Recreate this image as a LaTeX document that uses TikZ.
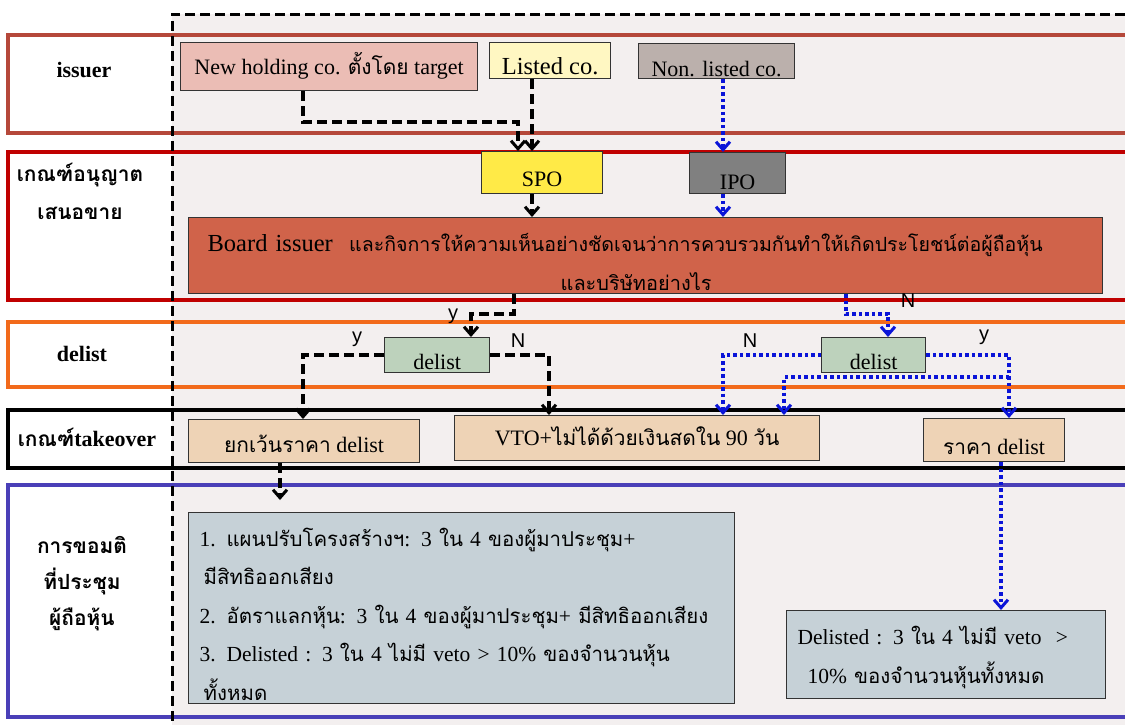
\documentclass[tikz,border=0pt]{standalone}
\usepackage{fontspec}
\setmainfont{Liberation Serif}
\newfontfamily\thaifont[Script=Thai,Scale=0.95]{Loma}
\newfontfamily\yesnofont{Liberation Sans}
\usetikzlibrary{arrows.meta,positioning}

\definecolor{paper}{HTML}{F3EFEF}
\definecolor{laneIssuer}{HTML}{B5483A}
\definecolor{laneOffer}{HTML}{C00000}
\definecolor{laneDelist}{HTML}{F26A1B}
\definecolor{laneVote}{HTML}{4A3FB8}
\definecolor{flowblue}{HTML}{0A14D8}
\definecolor{fillNew}{HTML}{EBBDB5}
\definecolor{fillListed}{HTML}{FFF7C2}
\definecolor{fillNonListed}{HTML}{BBB0AC}
\definecolor{fillSPO}{HTML}{FFEA47}
\definecolor{fillIPO}{HTML}{808080}
\definecolor{fillBoard}{HTML}{D0634A}
\definecolor{fillDelist}{HTML}{BDD2BC}
\definecolor{fillTakeover}{HTML}{EED3B6}
\definecolor{fillVote}{HTML}{C6D1D7}

\newcommand{\thaitext}[1]{{\thaifont #1}}

\begin{document}
\begin{tikzpicture}[x=1pt, y=-1pt,
    every node/.style={font=\fontsize{22}{26}\selectfont},
    lane/.style={draw, line width=3.2pt},
    lanetitle/.style={font=\fontsize{22}{38}\selectfont\bfseries, align=center},
    company/.style={rectangle, draw=black!80, line width=1.3pt, inner xsep=0pt, inner ysep=0pt,
        text centered, anchor=north west},
    answer/.style={font=\fontsize{20}{24}\selectfont\yesnofont, inner sep=0pt},
    blackflow/.style={draw=black, line width=3.4pt, dash pattern=on 10pt off 5pt,
        -{Straight Barb[length=8pt,width=14pt,line width=3pt]}},
    blueflow/.style={draw=flowblue, line width=3.6pt, dash pattern=on 3.5pt off 3pt,
        -{Straight Barb[length=8pt,width=14pt,line width=3pt]}}
    ]
    \clip (0,0) rectangle (1125,724);
    \fill[paper] (172,14) rectangle (1135,730);

    \draw[lane, draw=laneIssuer] (8,35) rectangle (1140,133);
    \draw[lane, draw=laneOffer] (8,152) rectangle (1140,300);
    \draw[lane, draw=laneDelist] (8,322) rectangle (1140,387);
    \draw[lane, draw=black] (8,410) rectangle (1140,468);
    \draw[lane, draw=laneVote] (8,485) rectangle (1140,717);
    \draw[line width=3pt, dash pattern=on 10pt off 5pt] (1140,14) -- (172,14) -- (172,730);

    \node (Title01) [lanetitle] at (84,70) {issuer};
    \node (Title02) [lanetitle] at (80,191) {\thaitext{เกณฑ์อนุญาต}\\\thaitext{เสนอขาย}};
    \node (Title03) [lanetitle] at (82,354) {delist};
    \node (Title04) [lanetitle] at (87,437) {\thaitext{เกณฑ์}takeover};
    \node (Title05) [lanetitle, font=\fontsize{22}{36}\selectfont\bfseries] at (82,584)
        {\thaitext{การขอมติ}\\\thaitext{ที่ประชุม}\\\thaitext{ผู้ถือหุ้น}};

    \node (Issuer01) [company, fill=fillNew, minimum width=297, text height=32, text depth=16]
        at (180,42) {New holding co. \thaitext{ตั้งโดย} target};
    \node (Listed01) [company, fill=fillListed, minimum width=121, text height=32, text depth=4,
        font=\fontsize{24.5}{28}\selectfont] at (489,42) {Listed co.};
    \node (NonListed01) [company, fill=fillNonListed, minimum width=156, text height=33, text depth=2]
        at (638,43) {Non. listed co.};
    \node (Offer01) [company, fill=fillSPO, minimum width=121, text height=35, text depth=7]
        at (481,151) {SPO};
    \node (Offer02) [company, fill=fillIPO, minimum width=96, text height=37, text depth=4]
        at (689,152) {IPO};
    \node (Board01) [company, fill=fillBoard, text width=876, inner xsep=19pt, minimum height=76,
        inner ysep=2pt, align=left, font=\fontsize{24.5}{39}\selectfont] at (188,217)
        {\rule{0pt}{31pt}Board issuer \ {\fontsize{20.6}{39}\selectfont\thaifont
         และกิจการให้ความเห็นอย่างชัดเจนว่าการควบรวมกันทำให้เกิดประโยชน์ต่อผู้ถือหุ้น}\\
         \hspace*{353pt}{\fontsize{21}{39}\selectfont\thaifont และบริษัทอย่างไร}};
    \node (Delist01) [company, fill=fillDelist, minimum width=105, text height=32, text depth=3]
        at (384,337) {delist};
    \node (Delist02) [company, fill=fillDelist, minimum width=104, text height=32, text depth=3]
        at (821,337) {delist};
    \node (Takeover01) [company, fill=fillTakeover, minimum width=231, text height=33, text depth=10]
        at (188,419) {\thaitext{ยกเว้นราคา} delist};
    \node (Takeover02) [company, fill=fillTakeover, minimum width=365, text height=30, text depth=15]
        at (454,415) {VTO+\thaitext{ไม่ได้ด้วยเงินสดใน} 90 \thaitext{วัน}};
    \node (Takeover03) [company, fill=fillTakeover, minimum width=141, text height=36, text depth=7]
        at (923,418) {\thaitext{ราคา} delist};
    \node (Vote01) [company, fill=fillVote, text width=524, inner xsep=11pt, minimum height=191,
        align=left, font=\fontsize{21.5}{38.5}\selectfont] at (188,512)
        {\rule{0pt}{30pt}1. \thaitext{แผนปรับโครงสร้างฯ}: 3 \thaitext{ใน} 4 \thaitext{ของผู้มาประชุม}+\\
         \hspace*{4pt}\thaitext{มีสิทธิออกเสียง}\\
         2. \thaitext{อัตราแลกหุ้น}: 3 \thaitext{ใน} 4 \thaitext{ของผู้มาประชุม}+ \thaitext{มีสิทธิออกเสียง}\\
         3. Delisted : 3 \thaitext{ใน} 4 \thaitext{ไม่มี} veto > 10\% \thaitext{ของจำนวนหุ้น}\\
         \hspace*{4pt}\thaitext{ทั้งหมด}};
    \node (Vote02) [company, fill=fillVote, text width=297, inner xsep=11pt, minimum height=88,
        align=left, font=\fontsize{21.5}{39}\selectfont] at (786,610)
        {\rule{0pt}{24pt}Delisted : 3 \thaitext{ใน} 4 \thaitext{ไม่มี} veto \ >\\
         \hspace*{10pt}10\% \thaitext{ของจำนวนหุ้นทั้งหมด}};

    \coordinate (Bend01) at (303,122);
    \coordinate (Bend02) at (518,122);
    \coordinate (Bend03) at (514,314);
    \coordinate (Bend04) at (471,314);
    \coordinate (Bend05) at (846,314);
    \coordinate (Bend06) at (888,314);
    \coordinate (Bend07) at (1009,377);
    \coordinate (Column01) at (532,0);
    \coordinate (Column02) at (723,0);
    \coordinate (Column03) at (549,0);
    \coordinate (Column04) at (784,0);
    \coordinate (Column05) at (280,0);
    \coordinate (Column06) at (1001,0);
    \coordinate (Tip01) at (280,500);

    \draw[blackflow] (Issuer01.south -| Bend01) -- (Bend01) -- (Bend02) -- (Offer01.north -| Bend02);
    \draw[blackflow] (Listed01.south -| Column01) -- (Offer01.north -| Column01);
    \draw[blueflow] (NonListed01.south -| Column02) -- (Offer02.north -| Column02);
    \draw[blackflow] (Offer01.south -| Column01) -- (Board01.north -| Column01);
    \draw[blueflow] (Offer02.south -| Column02) -- (Board01.north -| Column02);
    \draw[blackflow] (Board01.south -| Bend03) -- (Bend03) -- (Bend04) -- (Delist01.north -| Bend04);
    \draw[blueflow] (Board01.south -| Bend05) -- (Bend05) -- (Bend06) -- (Delist02.north -| Bend06);
    \draw[blackflow] (Delist01.west) -| (Takeover01.north -| Bend01);
    \draw[blackflow] (Delist01.east) -| (Takeover02.north -| Column03);
    \draw[blueflow] (Delist02.west) -| (Takeover02.north -| Column02);
    \draw[blueflow] (Delist02.east) -| (Takeover03.north -| Bend07);
    \draw[blueflow] (Bend07) -| (Takeover02.north -| Column04);
    \draw[blackflow] (Takeover01.south -| Column05) -- (Tip01);
    \draw[blueflow] (Takeover03.south -| Column06) -- (Vote02.north -| Column06);

    \node (Answer01) [answer] at (453,316) {y};
    \node (Answer02) [answer] at (908,301) {N};
    \node (Answer03) [answer] at (357,339) {y};
    \node (Answer04) [answer] at (518,341) {N};
    \node (Answer05) [answer] at (750,341) {N};
    \node (Answer06) [answer] at (984,337) {y};
\end{tikzpicture}
\end{document}
